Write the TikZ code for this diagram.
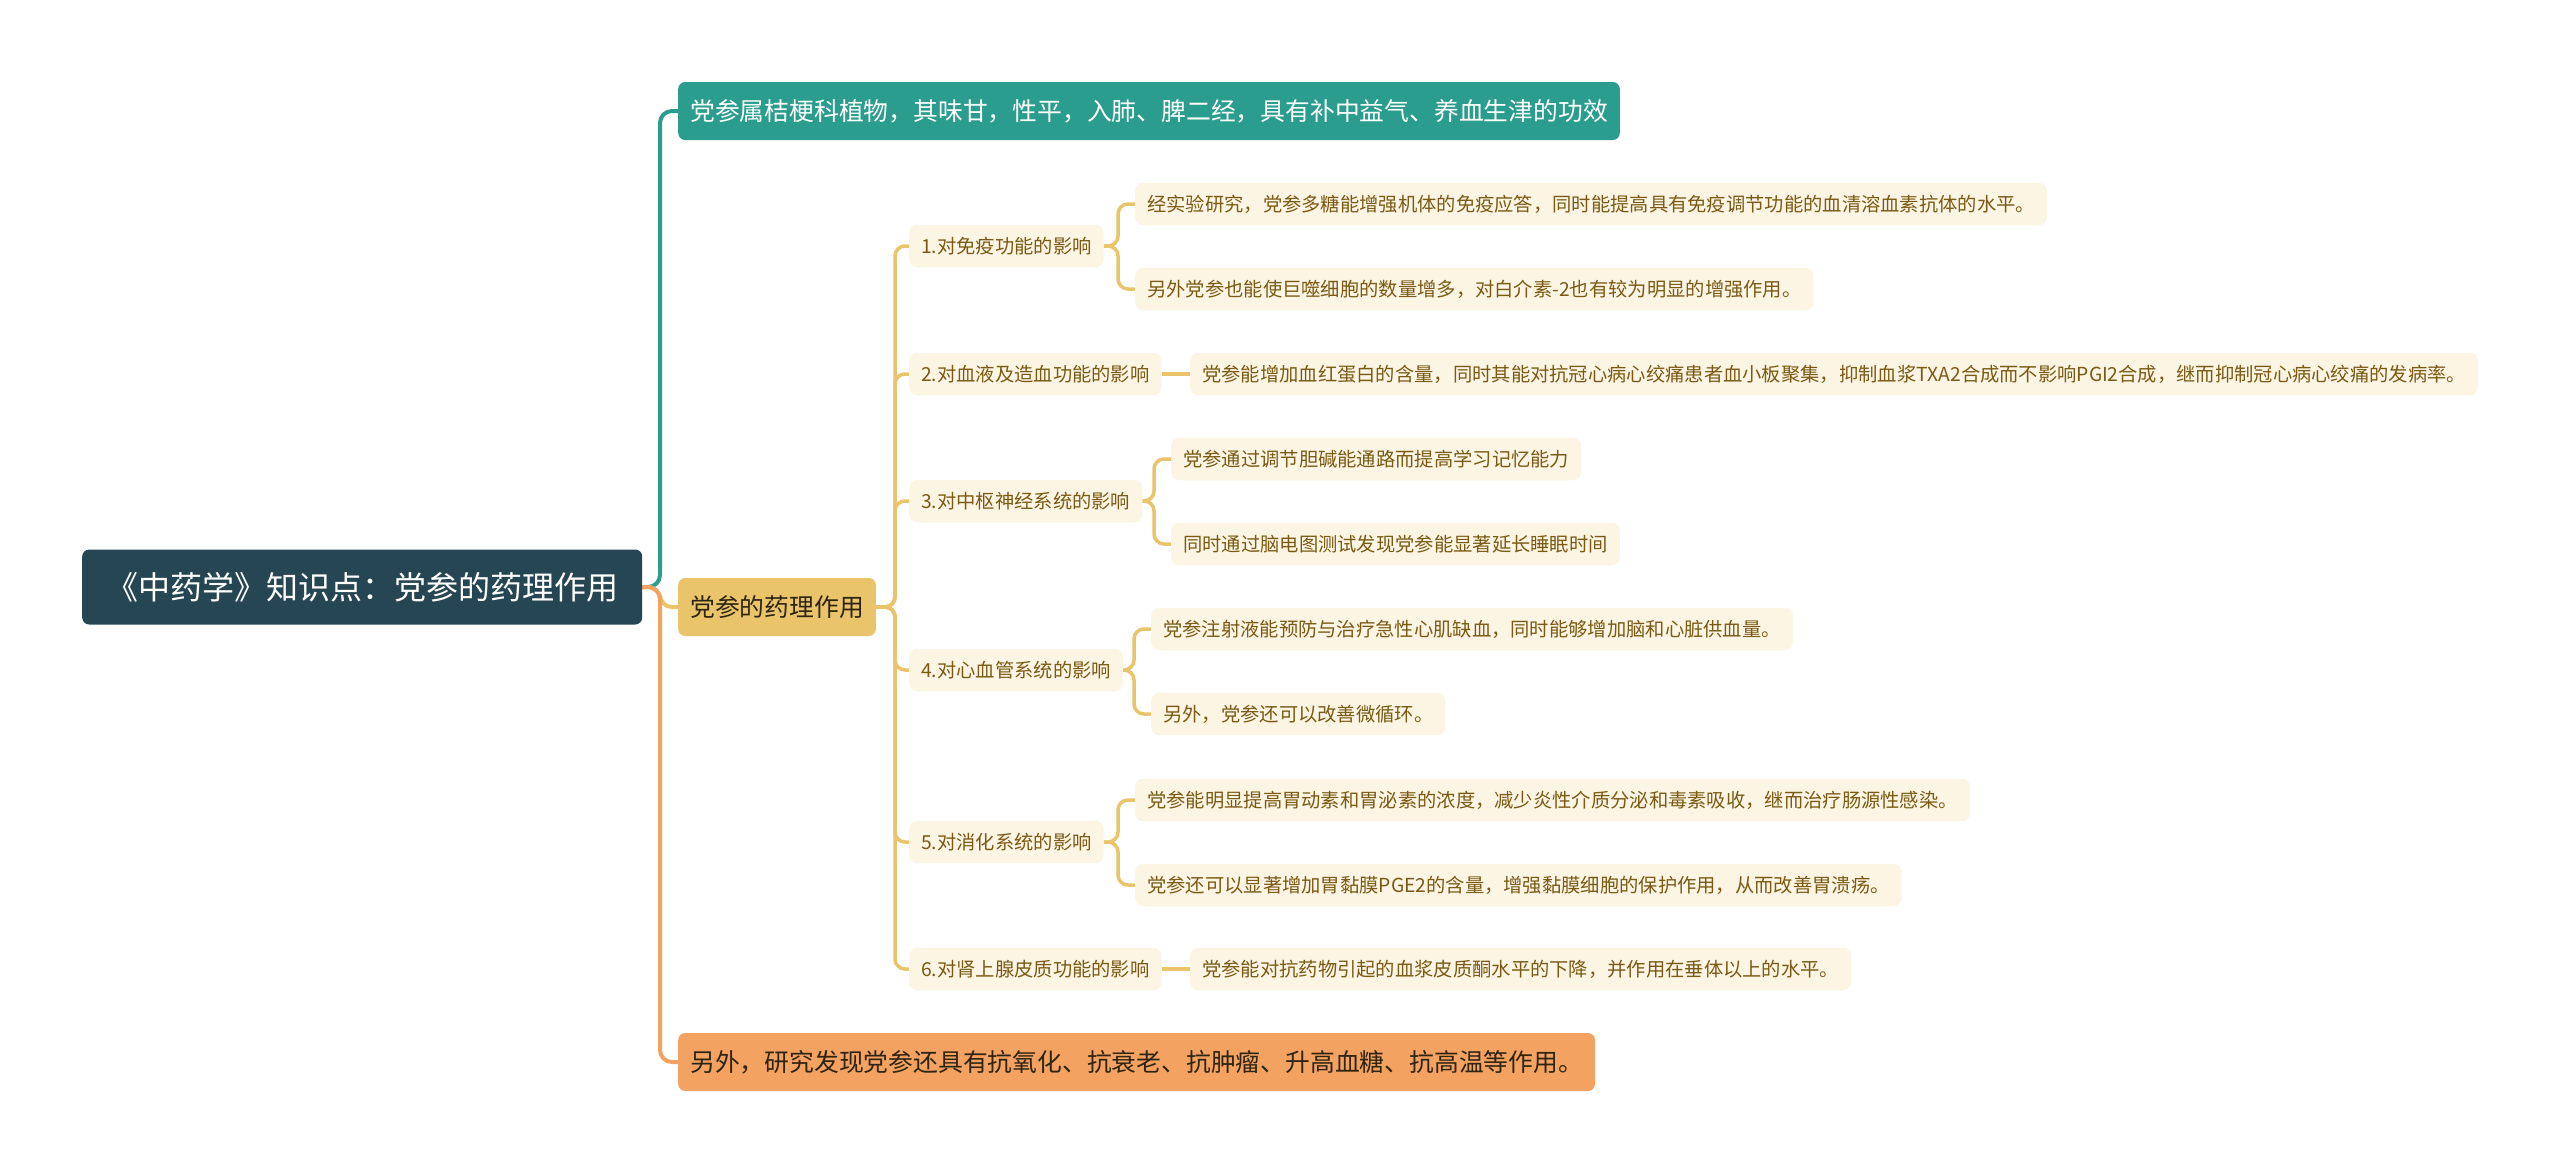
\documentclass[tikz,border=0pt]{standalone}
\usepackage{fontspec}
\setmainfont{Noto Sans CJK SC}
\usetikzlibrary{backgrounds}
\definecolor{cRoot}{HTML}{264653}
\definecolor{cTeal}{HTML}{2A9D8F}
\definecolor{cYel}{HTML}{E9C46A}
\definecolor{cOra}{HTML}{F4A261}
\definecolor{cCream}{HTML}{FCF5E3}
\definecolor{cBrown}{HTML}{7A5A14}
\definecolor{cDark}{HTML}{2E2410}
\tikzset{
  rootbox/.style={fill=cRoot, text=white, rounded corners=7, font=\fontsize{32}{36}\selectfont, inner xsep=24, inner ysep=0, minimum height=75, anchor=west},
  lonebox/.style={rounded corners=7, font=\fontsize{24.8}{28}\selectfont, inner xsep=12, inner ysep=0, minimum height=58, anchor=west},
  ltwobox/.style={fill=cCream, text=cBrown, rounded corners=8, font=\fontsize{19.3}{22}\selectfont, inner xsep=12, inner ysep=0, minimum height=42.5, anchor=west},
  edgeA/.style={line width=4, rounded corners=12},
  edgeB/.style={line width=3.5, draw=cYel, rounded corners=10},
}
\begin{document}
\begin{tikzpicture}[x=1pt,y=-1pt]
\useasboundingbox (0,0) rectangle (2560,1173);

\node[rootbox] (root) at (82,587) {《中药学》知识点：党参的药理作用};

\node[lonebox, fill=cTeal, text=white] (la) at (678,111) {党参属桔梗科植物，其味甘，性平，入肺、脾二经，具有补中益气、养血生津的功效};
\node[lonebox, fill=cYel, text=cDark] (lb) at (678,607) {党参的药理作用};
\node[lonebox, fill=cOra, text=cDark] (lc) at (678,1062) {另外，研究发现党参还具有抗氧化、抗衰老、抗肿瘤、升高血糖、抗高温等作用。};

\node[ltwobox] (c1) at (909,246) {1.对免疫功能的影响};
\node[ltwobox] (c2) at (909,374) {2.对血液及造血功能的影响};
\node[ltwobox] (c3) at (909,501) {3.对中枢神经系统的影响};
\node[ltwobox] (c4) at (909,670) {4.对心血管系统的影响};
\node[ltwobox] (c5) at (909,842) {5.对消化系统的影响};
\node[ltwobox] (c6) at (909,969) {6.对肾上腺皮质功能的影响};

\node[ltwobox] (c1a) at (1135,204) {经实验研究，党参多糖能增强机体的免疫应答，同时能提高具有免疫调节功能的血清溶血素抗体的水平。};
\node[ltwobox] (c1b) at (1135,289) {另外党参也能使巨噬细胞的数量增多，对白介素-2也有较为明显的增强作用。};
\node[ltwobox] (c2a) at (1190,374) {党参能增加血红蛋白的含量，同时其能对抗冠心病心绞痛患者血小板聚集，抑制血浆TXA2合成而不影响PGI2合成，继而抑制冠心病心绞痛的发病率。};
\node[ltwobox] (c3a) at (1171,459) {党参通过调节胆碱能通路而提高学习记忆能力};
\node[ltwobox] (c3b) at (1171,544) {同时通过脑电图测试发现党参能显著延长睡眠时间};
\node[ltwobox] (c4a) at (1151,629) {党参注射液能预防与治疗急性心肌缺血，同时能够增加脑和心脏供血量。};
\node[ltwobox] (c4b) at (1151,714) {另外，党参还可以改善微循环。};
\node[ltwobox] (c5a) at (1135,800) {党参能明显提高胃动素和胃泌素的浓度，减少炎性介质分泌和毒素吸收，继而治疗肠源性感染。};
\node[ltwobox] (c5b) at (1135,885) {党参还可以显著增加胃黏膜PGE2的含量，增强黏膜细胞的保护作用，从而改善胃溃疡。};
\node[ltwobox] (c6a) at (1190,969) {党参能对抗药物引起的血浆皮质酮水平的下降，并作用在垂体以上的水平。};

\begin{scope}[on background layer]
\fill[white] (0,0) rectangle (2560,1173);
\draw[edgeA, draw=cTeal] (root.east) -- (660,587) |- (la.west);
\draw[edgeA, draw=cYel] (root.east) -- (660,587) |- (lb.west);
\draw[edgeA, draw=cOra] (root.east) -- (660,587) |- (lc.west);

\foreach \c in {c1,c2,c3,c4,c5,c6}
  \draw[edgeB] (lb.east) -- (895,607) |- (\c.west);

\draw[edgeB] (c1.east) -- (1118,246) |- (c1a.west);
\draw[edgeB] (c1.east) -- (1118,246) |- (c1b.west);
\draw[edgeB] (c2.east) -- (c2a.west);
\draw[edgeB] (c3.east) -- (1154,501) |- (c3a.west);
\draw[edgeB] (c3.east) -- (1154,501) |- (c3b.west);
\draw[edgeB] (c4.east) -- (1134,670) |- (c4a.west);
\draw[edgeB] (c4.east) -- (1134,670) |- (c4b.west);
\draw[edgeB] (c5.east) -- (1118,842) |- (c5a.west);
\draw[edgeB] (c5.east) -- (1118,842) |- (c5b.west);
\draw[edgeB] (c6.east) -- (c6a.west);
\end{scope}
\end{tikzpicture}
\end{document}
